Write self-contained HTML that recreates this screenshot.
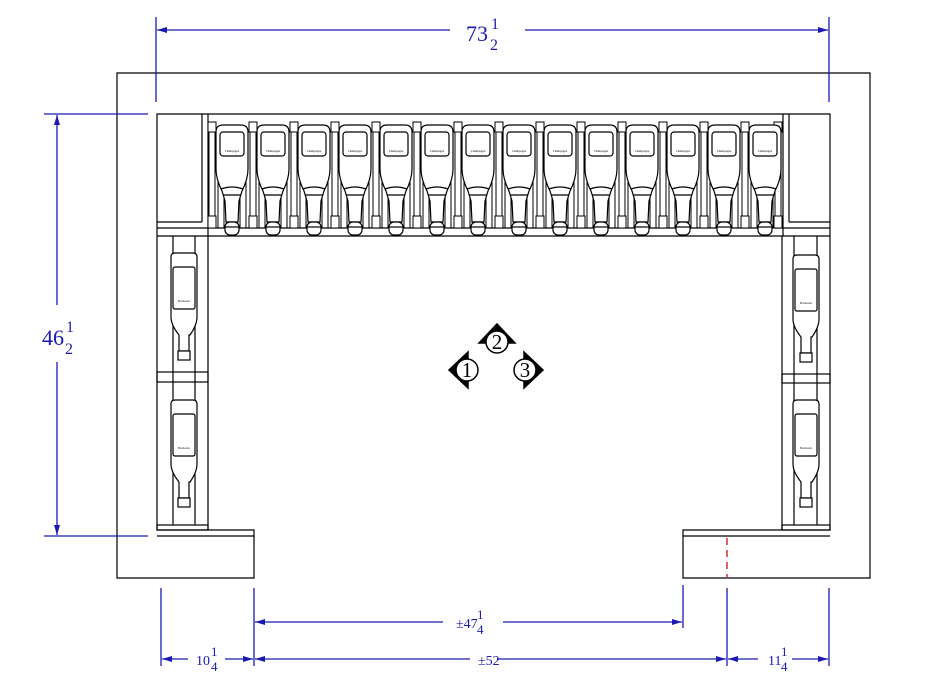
<!DOCTYPE html>
<html><head><meta charset="utf-8"><style>html,body{margin:0;padding:0;background:#fff}svg{display:block}</style></head><body>
<svg width="950" height="694" viewBox="0 0 950 694" xmlns="http://www.w3.org/2000/svg" font-family="Liberation Serif, serif">
<defs>
<marker id="ar" viewBox="0 0 10 6" refX="10" refY="3" markerWidth="10" markerHeight="6" orient="auto-start-reverse" markerUnits="userSpaceOnUse"><path d="M0,0 L10,3 L0,6 Z" fill="#1a1ab0"/></marker>
<g id="tb" fill="#fff" stroke="#000" stroke-width="1.2">
<path d="M-16,7 Q-16,0 -9,0 L9,0 Q16,0 16,7 L16,44 Q16,54 10,66 L7,76 L6,97 L-6,97 L-7,76 L-10,66 Q-16,54 -16,44 Z"/>
<path d="M-11,64 Q0,60 11,64 M-9,70 L9,70" fill="none"/>
<rect x="-12" y="7" width="24" height="24" rx="3"/>
<rect x="-7" y="97" width="14" height="13" rx="5"/>
<line x1="-7" y1="102" x2="7" y2="102"/>
</g>
<g id="sb" fill="#fff" stroke="#000" stroke-width="1.2">
<path d="M-13,4 Q-13,0 -9,0 L9,0 Q13,0 13,4 L13,64 Q13,72 6,82 L5,82 L5,98 L-5,98 L-5,82 Q-13,72 -13,64 Z"/>
<rect x="-11" y="14" width="22" height="42" rx="2"/>
<rect x="-6" y="98" width="12" height="9"/>
</g>
</defs>
<g fill="none" stroke="#000" stroke-width="1.2">
<path d="M117,73 H870 V578 H683 V530 H830 V114 H157 V530 H254 V578 H117 Z"/>
<line x1="157" y1="536" x2="254" y2="536"/>
<line x1="683" y1="536" x2="830" y2="536"/>
<line x1="202" y1="114" x2="202" y2="222"/>
<line x1="208" y1="114" x2="208" y2="236"/>
<line x1="157" y1="222" x2="202" y2="222"/>
<line x1="157" y1="228" x2="830" y2="228"/>
<line x1="157" y1="236" x2="830" y2="236"/>
<line x1="783" y1="114" x2="783" y2="236"/>
<line x1="789" y1="114" x2="789" y2="222"/>
<line x1="789" y1="222" x2="830" y2="222"/>
<line x1="208" y1="236" x2="208" y2="530"/>
<line x1="173" y1="236" x2="173" y2="525"/>
<line x1="195" y1="236" x2="195" y2="525"/>
<rect x="157" y="372" width="51" height="10"/>
<rect x="157" y="525" width="51" height="5"/>
<line x1="782" y1="236" x2="782" y2="530"/>
<line x1="794" y1="236" x2="794" y2="525"/>
<line x1="817" y1="236" x2="817" y2="525"/>
<rect x="782" y="374" width="48" height="9"/>
<rect x="782" y="525" width="48" height="5"/>
</g>
<g stroke="#000" stroke-width="1" fill="#fff">
<g id="slats"><line x1="218" y1="165" x2="218" y2="228"/><line x1="224" y1="170" x2="224" y2="228"/><line x1="240" y1="170" x2="240" y2="228"/><line x1="246" y1="165" x2="246" y2="228"/></g>
<use href="#slats" x="41"/><use href="#slats" x="82"/><use href="#slats" x="123"/><use href="#slats" x="164"/><use href="#slats" x="205"/><use href="#slats" x="246"/><use href="#slats" x="287"/><use href="#slats" x="328"/><use href="#slats" x="369"/><use href="#slats" x="410"/><use href="#slats" x="451"/><use href="#slats" x="492"/><use href="#slats" x="533"/>
<g id="div"><rect x="209" y="122" width="6" height="106"/><rect x="208" y="122" width="8" height="10"/><rect x="208" y="216" width="8" height="12"/></g>
<use href="#div" x="41"/><use href="#div" x="82"/><use href="#div" x="123"/><use href="#div" x="164"/><use href="#div" x="205"/><use href="#div" x="246"/><use href="#div" x="287"/><use href="#div" x="328"/><use href="#div" x="369"/><use href="#div" x="410"/><use href="#div" x="451"/><use href="#div" x="492"/><use href="#div" x="533"/><use href="#div" x="566"/>
</g>
<use href="#tb" x="232" y="125"/><use href="#tb" x="273" y="125"/><use href="#tb" x="314" y="125"/><use href="#tb" x="355" y="125"/><use href="#tb" x="396" y="125"/><use href="#tb" x="437" y="125"/><use href="#tb" x="478" y="125"/><use href="#tb" x="519" y="125"/><use href="#tb" x="560" y="125"/><use href="#tb" x="601" y="125"/><use href="#tb" x="642" y="125"/><use href="#tb" x="683" y="125"/><use href="#tb" x="724" y="125"/><use href="#tb" x="765" y="125"/>
<use href="#sb" x="184" y="253"/><use href="#sb" x="184" y="400"/>
<use href="#sb" x="806" y="255"/><use href="#sb" x="806" y="400"/>
<g font-size="3" fill="#000" text-anchor="middle">
<text x="232" y="152">Champagne</text><text x="273" y="152">Champagne</text><text x="314" y="152">Champagne</text><text x="355" y="152">Champagne</text><text x="396" y="152">Champagne</text><text x="437" y="152">Champagne</text><text x="478" y="152">Champagne</text><text x="519" y="152">Champagne</text><text x="560" y="152">Champagne</text><text x="601" y="152">Champagne</text><text x="642" y="152">Champagne</text><text x="683" y="152">Champagne</text><text x="724" y="152">Champagne</text><text x="765" y="152">Champagne</text>
<text x="184" y="302">Bordeaux</text><text x="184" y="449">Bordeaux</text><text x="806" y="304">Bordeaux</text><text x="806" y="449">Bordeaux</text>
</g>
<g stroke="#000" stroke-width="1.5" fill="#fff">
<path d="M468,352 L449,370 L468,388 Z" fill="#000"/><circle cx="467" cy="370" r="11"/>
<path d="M479,343 L497,324 L515,343 Z" fill="#000"/><circle cx="497" cy="342" r="11"/>
<path d="M524,352 L543,370 L524,388 Z" fill="#000"/><circle cx="525" cy="370" r="11"/>
</g>
<g font-size="21" text-anchor="middle" fill="#000">
<text x="467" y="377">1</text><text x="497" y="349">2</text><text x="525" y="377">3</text>
</g>
<line x1="727" y1="538" x2="727" y2="578" stroke="#d03030" stroke-width="1.5" stroke-dasharray="7,5"/>
<g stroke="#1a1ab0" stroke-width="1.3" fill="none">
<line x1="156" y1="17" x2="156" y2="102"/><line x1="829" y1="17" x2="829" y2="102"/>
<line x1="157" y1="30" x2="450" y2="30" marker-start="url(#ar)"/><line x1="525" y1="30" x2="828" y2="30" marker-end="url(#ar)"/>
<line x1="44" y1="114" x2="148" y2="114"/><line x1="44" y1="536" x2="148" y2="536"/>
<line x1="57" y1="115" x2="57" y2="305" marker-start="url(#ar)"/><line x1="57" y1="362" x2="57" y2="535" marker-end="url(#ar)"/>
<line x1="161" y1="588" x2="161" y2="666"/><line x1="254" y1="588" x2="254" y2="666"/><line x1="683" y1="585" x2="683" y2="628"/><line x1="727" y1="588" x2="727" y2="666"/><line x1="829" y1="588" x2="829" y2="666"/>
<line x1="255" y1="622" x2="443" y2="622" marker-start="url(#ar)"/><line x1="503" y1="622" x2="682" y2="622" marker-end="url(#ar)"/>
<line x1="162" y1="659" x2="188" y2="659" marker-start="url(#ar)"/><line x1="225" y1="659" x2="253" y2="659" marker-end="url(#ar)"/>
<line x1="255" y1="659" x2="470" y2="659" marker-start="url(#ar)"/><line x1="497" y1="659" x2="726" y2="659" marker-end="url(#ar)"/>
<line x1="728" y1="659" x2="758" y2="659" marker-start="url(#ar)"/><line x1="792" y1="659" x2="828" y2="659" marker-end="url(#ar)"/>
</g>
<g fill="#1a1ab0">
<text x="466" y="41" font-size="22">73</text><text x="491" y="29" font-size="16">1</text><text x="490" y="50" font-size="16">2</text>
<text x="42" y="345" font-size="22">46</text><text x="66" y="332" font-size="16">1</text><text x="65" y="354" font-size="16">2</text>
<text x="456" y="628" font-size="14">±47</text><text x="477" y="619" font-size="13">1</text><text x="477" y="634" font-size="13">4</text>
<text x="478" y="665" font-size="14">±52</text>
<text x="196" y="665" font-size="14">10</text><text x="211" y="656" font-size="13">1</text><text x="211" y="671" font-size="13">4</text>
<text x="768" y="665" font-size="14">11</text><text x="781" y="656" font-size="13">1</text><text x="781" y="671" font-size="13">4</text>
</g>
</svg>
</body></html>
